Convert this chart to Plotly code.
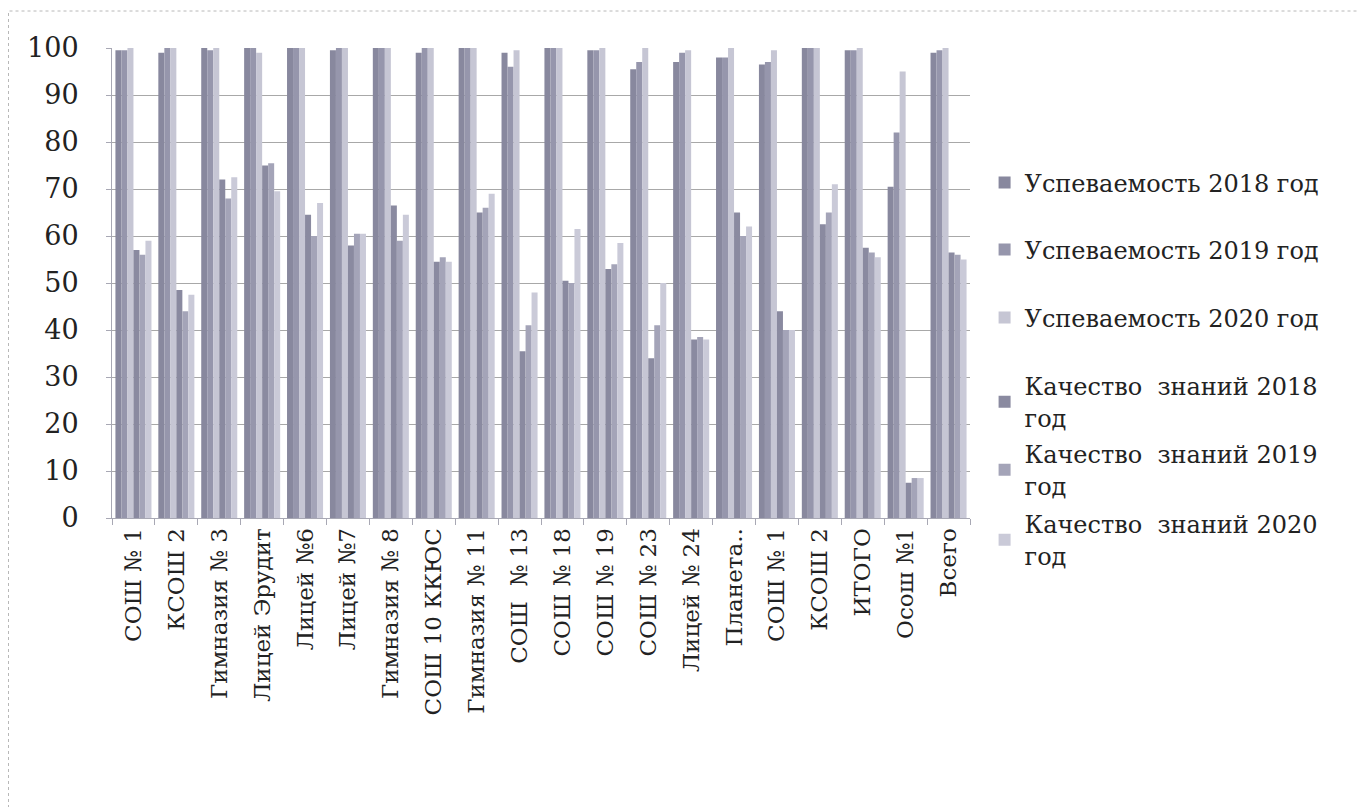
import plotly.graph_objects as go

categories = ["СОШ № 1", "КСОШ 2", "Гимназия № 3", "Лицей Эрудит", "Лицей №6",
              "Лицей №7", "Гимназия № 8", "СОШ 10 ККЮС", "Гимназия № 11", "СОШ  № 13",
              "СОШ № 18", "СОШ № 19", "СОШ № 23", "Лицей № 24", "Планета..",
              "СОШ № 1 ", "КСОШ 2 ", "ИТОГО", "Осош №1", "Всего"]

u2018 = [99.5, 99, 100, 100, 100, 99.5, 100, 99, 100, 99, 100, 99.5, 95.5, 97, 98, 96.5, 100, 99.5, 70.5, 99]
u2019 = [99.5, 100, 99.5, 100, 100, 100, 100, 100, 100, 96, 100, 99.5, 97, 99, 98, 97, 100, 99.5, 82, 99.5]
u2020 = [100, 100, 100, 99, 100, 100, 100, 100, 100, 99.5, 100, 100, 100, 99.5, 100, 99.5, 100, 100, 95, 100]
q2018 = [57, 48.5, 72, 75, 64.5, 58, 66.5, 54.5, 65, 35.5, 50.5, 53, 34, 38, 65, 44, 62.5, 57.5, 7.5, 56.5]
q2019 = [56, 44, 68, 75.5, 60, 60.5, 59, 55.5, 66, 41, 50, 54, 41, 38.5, 60, 40, 65, 56.5, 8.5, 56]
q2020 = [59, 47.5, 72.5, 69.5, 67, 60.5, 64.5, 54.5, 69, 48, 61.5, 58.5, 50, 38, 62, 40, 71, 55.5, 8.5, 55]

series_names = ["Успеваемость 2018 год", "Успеваемость 2019 год", "Успеваемость 2020 год",
                "Качество  знаний 2018<br>год", "Качество  знаний 2019<br>год",
                "Качество  знаний 2020<br>год"]
series_values = [u2018, u2019, u2020, q2018, q2019, q2020]
colors = ["#88889e", "#9696ac", "#c6c6d4", "#8a8aa0", "#a4a4b8", "#cacad8"]

y_ticks = list(range(0, 101, 10))

# figure-pixel layout (page body adds 8px offset)
L, T, PW, PH = 104, 40, 858, 470
legend_centers = [175, 242, 310, 394, 462, 532]
legend_keys = ["legend", "legend2", "legend3", "legend4", "legend5", "legend6"]

serif = "DejaVu Serif"
fig = go.Figure()
for name, vals, col, lk in zip(series_names, series_values, colors, legend_keys):
    fig.add_trace(go.Bar(x=categories, y=vals, name=name, legend=lk, showlegend=True,
                         marker=dict(color=col, line=dict(width=0))))

layout_legends = {}
for lk, cy in zip(legend_keys, legend_centers):
    layout_legends[lk] = dict(x=1.017, y=(T + PH - cy) / PH, xanchor="left", yanchor="middle",
                              font=dict(family=serif, size=24, color="#222222"),
                              itemwidth=30, bgcolor="rgba(0,0,0,0)", visible=True)

fig.update_layout(
    width=1366, height=807,
    showlegend=True,
    paper_bgcolor="white", plot_bgcolor="white",
    margin=dict(l=L, r=1366 - L - PW, t=T, b=807 - T - PH),
    barmode="group", bargap=0.16, bargroupgap=0,
    font=dict(family=serif, color="#222222"),
    xaxis=dict(tickmode="array", tickvals=categories, ticktext=[c.strip() for c in categories],
               tickangle=-90, tickfont=dict(family=serif, size=23, color="#222222"),
               showline=True, linecolor="#a8a8b4", linewidth=1,
               ticks="outside", ticklen=6, tickcolor="#a8a8b4", tickson="boundaries",
               showgrid=False),
    yaxis=dict(range=[0, 100], tickvals=y_ticks,
               tickfont=dict(family=serif, size=27, color="#222222"),
               ticklabelstandoff=22,
               showline=True, linecolor="#a8a8b4", linewidth=1,
               ticks="outside", ticklen=5, tickcolor="#a8a8b4",
               showgrid=True, gridcolor="#a8a8a8", gridwidth=1, zeroline=False),
    shapes=[dict(type="rect", xref="paper", yref="paper",
                 x0=(0.5 - L) / PW, x1=(1380 - L) / PW,
                 y0=(T + PH - 806) / PH, y1=(T + PH - 3) / PH,
                 line=dict(color="#b8b8b8", width=1, dash="dot"), layer="below")],
    **layout_legends,
)

fig.write_html("out.html")
